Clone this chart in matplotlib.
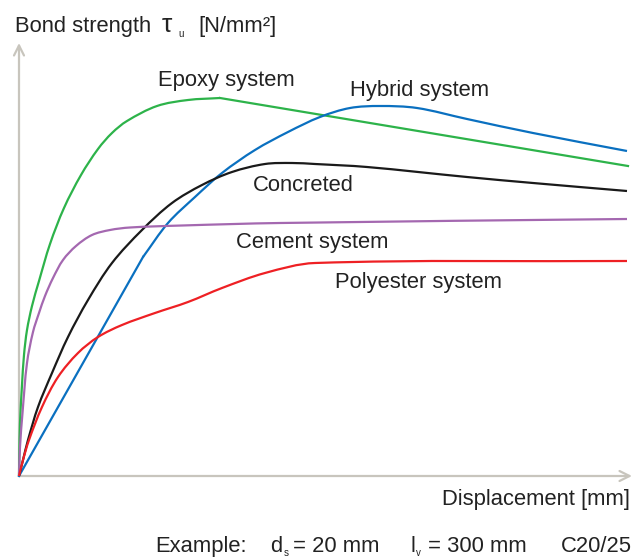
import numpy as np
import matplotlib
matplotlib.use("Agg")
import matplotlib.pyplot as plt
from matplotlib.path import Path
from matplotlib.patches import PathPatch

# curve points (x = displacement, y = bond strength, pixel-like units)
epoxy_x = [0, 0.3, 1, 3, 5, 8, 13, 20, 31, 45, 62, 79, 93, 108, 138, 169, 201, 609]
epoxy_y = [0, 21, 53, 91, 121, 146, 170, 195, 232, 268, 301, 327, 343, 355, 370, 376, 378, 310]

hybrid_x = [0, 124, 149, 176, 203, 236, 269, 301, 331, 361, 398, 448, 514, 608]
hybrid_y = [0, 219, 253, 279, 303, 326, 344, 359, 368, 370, 368, 357, 343, 325]

concreted_x = [0, 4, 9, 19, 33, 49, 69, 93, 123, 153, 183, 213, 246, 273, 296, 348, 448, 514, 608]
concreted_y = [0, 16, 36, 69, 103, 139, 176, 213, 246, 273, 291, 304, 312, 313, 312, 309, 299, 293, 285]

cement_x = [0, 1, 3.5, 8, 14, 20, 26, 34, 44, 57, 73, 91, 111, 163, 261, 608]
cement_y = [0, 29, 63, 113, 144, 163, 180, 198, 216, 230, 241, 246, 248.5, 250.5, 253, 257]

polyester_x = [0, 4, 10, 23, 39, 59, 79, 103, 136, 169, 203, 246, 296, 608]
polyester_y = [0, 16, 36, 69, 99, 123, 139, 151, 163, 174, 188, 203, 213, 215]

series = [
    ("Epoxy system", epoxy_x, epoxy_y, "#2db34a"),
    ("Hybrid system", hybrid_x, hybrid_y, "#0a70c0"),
    ("Concreted", concreted_x, concreted_y, "#1a1a1a"),
    ("Cement system", cement_x, cement_y, "#a468b0"),
    ("Polyester system", polyester_x, polyester_y, "#ee2024"),
]

# label anchors (left x, baseline y)
label_pos = {
    "Epoxy system": (139, 390),
    "Hybrid system": (331, 380),
    "Concreted": (234, 285),
    "Cement system": (217, 228),
    "Polyester system": (316, 188),
}


def smooth_path(xs, ys):
    """Bezier path through the read points (drawn as curves by matplotlib)"""
    p = np.column_stack([xs, ys]).astype(float)
    n = len(p)
    tang = np.zeros_like(p)
    for i in range(n):
        a = p[max(i - 1, 0)]
        b = p[min(i + 1, n - 1)]
        d = b - a
        tang[i] = d / np.hypot(*d)
    verts = [p[0]]
    codes = [Path.MOVETO]
    for i in range(n - 1):
        seg = np.hypot(*(p[i + 1] - p[i])) / 3
        verts += [p[i] + tang[i] * seg, p[i + 1] - tang[i + 1] * seg, p[i + 1]]
        codes += [Path.CURVE4] * 3
    return Path(verts, codes)


plt.rcParams["font.family"] = ["Liberation Sans", "DejaVu Sans"]
txt_color = "#222222"
axis_color = "#c8c5bd"
fs = 15.8

fig = plt.figure(figsize=(6.36, 5.57), dpi=100)
ax = fig.add_axes([0, 0, 1, 1])
ax.set_xlim(-19, 617)
ax.set_ylim(-81, 476)
ax.axis("off")

# axes with open arrow heads
arrow = dict(arrowstyle="->", color=axis_color, lw=1.6, mutation_scale=18,
             shrinkA=0, shrinkB=0)
ax.annotate("", xy=(613, 0), xytext=(0, 0), arrowprops=arrow)
ax.annotate("", xy=(0, 433), xytext=(0, 0), arrowprops=arrow)

for name, xs, ys, col in series:
    if name == "Epoxy system":
        # smooth rise, then a straight descent after the peak
        ax.add_patch(PathPatch(smooth_path(xs[:-1], ys[:-1]), fill=False,
                               edgecolor=col, lw=1.6, zorder=3))
        ax.plot(xs[-2:], ys[-2:], color=col, lw=1.6, zorder=3)
    elif name == "Hybrid system":
        # straight rise, then a curved top
        ax.plot(xs[:2], ys[:2], color=col, lw=1.6, zorder=3)
        ax.add_patch(PathPatch(smooth_path(xs[1:], ys[1:]), fill=False,
                               edgecolor=col, lw=1.6, zorder=3))
    else:
        ax.add_patch(PathPatch(smooth_path(xs, ys), fill=False,
                               edgecolor=col, lw=1.6, zorder=3))
    lx, ly = label_pos[name]
    ax.text(lx, ly, name, fontsize=fs, color=txt_color, ha="left", va="baseline")

# y axis title
ax.text(-4, 444, "Bond strength", fontsize=fs, color=txt_color, va="baseline")
ax.text(143, 444, "τ", fontsize=19, color=txt_color, va="baseline")
ax.text(159, 439, "u", fontsize=7, color=txt_color, va="baseline")
ax.text(179, 444, "[N/mm²]", fontsize=fs, color=txt_color, va="baseline")

# x axis title
ax.text(611, -29, "Displacement [mm]", fontsize=fs, color=txt_color,
        ha="right", va="baseline")

# example line
ax.text(136, -76, "Example:", fontsize=fs, color=txt_color, va="baseline")
ax.text(251, -76, "d", fontsize=fs, color=txt_color, va="baseline")
ax.text(265, -80, "s", fontsize=7, color=txt_color, va="baseline")
ax.text(274, -76, "= 20 mm", fontsize=fs, color=txt_color, va="baseline")
ax.text(391, -76, "l", fontsize=fs, color=txt_color, va="baseline")
ax.text(397, -80, "v", fontsize=7, color=txt_color, va="baseline")
ax.text(409, -76, "= 300 mm", fontsize=fs, color=txt_color, va="baseline")
ax.text(613, -76, "C20/25", fontsize=fs, color=txt_color, ha="right", va="baseline")

fig.savefig("out.png", dpi=100)
